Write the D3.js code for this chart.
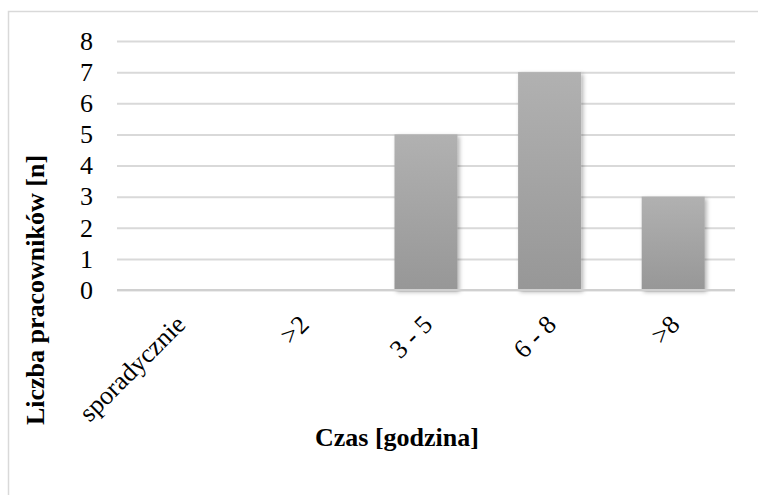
<!DOCTYPE html>
<html>
<head>
<meta charset="utf-8">
<script src="https://cdn.jsdelivr.net/npm/d3@7"></script>
<style>
  html, body { margin: 0; padding: 0; background: #fff; }
  svg, svg text { font-family: "Liberation Serif", "Times New Roman", serif; }
</style>
</head>
<body>
<div id="chart"></div>
<script>
const categories = ["sporadycznie", ">2", "3 - 5", "6 - 8", ">8"];
const values = [0, 0, 5, 7, 3];
const yTicks = [0, 1, 2, 3, 4, 5, 6, 7, 8];
const xTitle = "Czas [godzina]";
const yTitle = "Liczba pracowników [n]";

const W = 758, H = 495;
const plot = { left: 117, right: 735, top: 41, bottom: 290 };
const serif = "'Liberation Serif', 'Times New Roman', serif";

const svg = d3.select("#chart").append("svg").attr("width", W).attr("height", H);

const defs = svg.append("defs");
const grad = defs.append("linearGradient").attr("id", "barGrad")
  .attr("x1", 0).attr("y1", 0).attr("x2", 0).attr("y2", 1);
grad.append("stop").attr("offset", "0%").attr("stop-color", "#b1b1b1");
grad.append("stop").attr("offset", "100%").attr("stop-color", "#979797");
const filt = defs.append("filter").attr("id", "shadow")
  .attr("x", "-20%").attr("y", "-10%").attr("width", "150%").attr("height", "130%");
filt.append("feDropShadow").attr("dx", 2).attr("dy", 2).attr("stdDeviation", 2)
  .attr("flood-color", "#000").attr("flood-opacity", 0.3);

// outer border
svg.append("rect").attr("x", 8.5).attr("y", 11.5).attr("width", W).attr("height", H)
  .attr("fill", "none").attr("stroke", "#d9d9d9").attr("stroke-width", 1.5);

const x = d3.scaleBand().domain(categories).range([plot.left, plot.right]).paddingInner(0.49).paddingOuter(0.245);
const y = d3.scaleLinear().domain([0, 8]).range([plot.bottom, plot.top]);

// gridlines + y tick labels
const yAxis = d3.axisLeft(y).tickValues(yTicks).tickSize(-(plot.right - plot.left)).tickPadding(24).tickFormat(d3.format("d"));
const gy = svg.append("g").attr("transform", `translate(${plot.left},0)`).call(yAxis)
  .attr("font-family", null).attr("font-size", null);
gy.select(".domain").remove();
gy.selectAll(".tick line").attr("stroke", "#d9d9d9").attr("stroke-width", 2);
gy.selectAll(".tick text").style("font-family", serif).style("font-size", "26px").attr("fill", "#000");

// bars
svg.append("g").selectAll("rect").data(categories.map((c, i) => ({ c, v: values[i] })).filter(d => d.v > 0))
  .join("rect")
  .attr("x", d => x(d.c))
  .attr("y", d => y(d.v))
  .attr("width", x.bandwidth())
  .attr("height", d => y(0) - y(d.v))
  .attr("fill", "url(#barGrad)")
  .attr("filter", "url(#shadow)");

// baseline
svg.append("line").attr("x1", plot.left).attr("x2", plot.right)
  .attr("y1", y(0)).attr("y2", y(0)).attr("stroke", "#d0d0d0").attr("stroke-width", 2);

// x labels
const xAxis = d3.axisBottom(x).tickSize(0).tickPadding(0);
const gx = svg.append("g").attr("transform", `translate(0,${plot.bottom})`).call(xAxis)
  .attr("font-family", null).attr("font-size", null);
gx.select(".domain").remove();
gx.selectAll(".tick text")
  .style("font-family", serif).style("font-size", "26px").attr("fill", "#000")
  .attr("text-anchor", "end")
  .attr("dy", 0)
  .attr("transform", "translate(8,36) rotate(-45)");

// axis titles
svg.append("text").attr("x", 397).attr("y", 446)
  .attr("text-anchor", "middle").style("font-family", serif).style("font-weight", "bold").style("font-size", "26px")
  .text(xTitle);
svg.append("text").attr("transform", "translate(44,290) rotate(-90)")
  .attr("text-anchor", "middle").style("font-family", serif).style("font-weight", "bold").style("font-size", "26px")
  .text(yTitle);
</script>
</body>
</html>
